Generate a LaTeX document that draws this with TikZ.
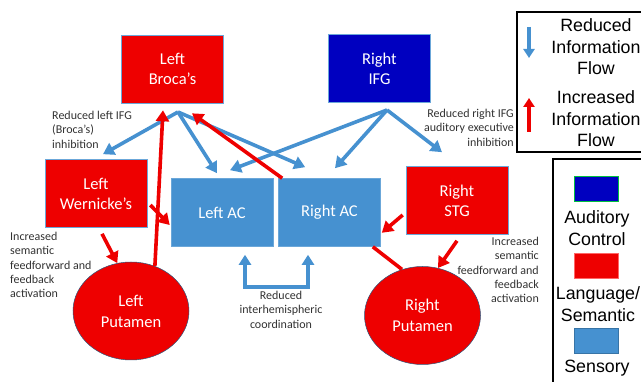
\documentclass[tikz,border=0pt]{standalone}
\usepackage{fontspec}
\setmainfont{Carlito}
\newfontfamily\legendfont{Liberation Sans}
\usetikzlibrary{arrows.meta, positioning, calc, shapes.geometric}
\definecolor{langred}{RGB}{238,0,0}
\definecolor{ctrlblue}{RGB}{0,0,192}
\definecolor{sensblue}{RGB}{70,145,208}
\definecolor{notegray}{RGB}{50,50,50}

\begin{document}
\begin{tikzpicture}[x=1pt, y=-1pt,
  region/.style={rectangle, draw=sensblue!80, line width=0.6pt, text=white, align=center,
    minimum width=102pt, minimum height=68pt, inner sep=0pt,
    font=\fontsize{16.5}{20}\selectfont},
  lang/.style={region, fill=langred},
  ctrl/.style={region, fill=ctrlblue},
  sens/.style={region, fill=sensblue},
  putamen/.style={ellipse, fill=langred, draw=sensblue!60!black, line width=0.5pt, text=white, align=center,
    minimum width=116pt, minimum height=98pt, inner sep=0pt,
    font=\fontsize{16.5}{21}\selectfont},
  reduced/.style={sensblue, line width=3.6pt, -{Triangle[length=11pt, width=13pt]}},
  increased/.style={langred, line width=3.6pt, -{Triangle[length=11pt, width=13pt]}},
  note/.style={notegray, inner sep=0pt, font=\fontsize{12}{14.3}\selectfont},
  legtext/.style={align=center, inner sep=0pt, font=\legendfont\fontsize{17.8}{21.5}\selectfont},
  swatch/.style={rectangle, minimum width=44pt, minimum height=25pt, inner sep=0pt, line width=0.8pt}]
  \useasboundingbox (0,0) rectangle (641,382);

  % regions
  \node[lang] (broca) at (172.5,69) {Left\\Broca’s};
  \node[ctrl] (ifg) at (379.5,68.5) {Right\\IFG};
  \node[lang] (wern) at (96,193.5) {Left\\Wernicke’s};
  \node[sens] (leftac) at (222,212.5) {Left AC};
  \node[sens] (rightac) at (329.5,212.5) {Right AC};
  \node[lang] (stg) at (457,200.5) {Right\\STG};
  \node[putamen] (lput) at (131,311) {Left\\Putamen};
  \node[putamen] (rput) at (422.5,315.5) {Right\\Putamen};

  \coordinate (brocafan) at (178,112);
  \coordinate (ifgfan) at (387,110);

  % reduced flow
  \draw[reduced] (brocafan) -- ([shift={(7pt,5pt)}]wern.north);
  \draw[reduced] (brocafan) -- ([shift={(-5pt,5pt)}]leftac.north);
  \draw[reduced] (brocafan) -- ([shift={(27pt,11pt)}]rightac.north west);
  \draw[reduced] (ifgfan) -- ([shift={(8pt,8pt)}]leftac.north);
  \draw[reduced] (ifgfan) -- ([shift={(5.5pt,10pt)}]rightac.north);
  \draw[reduced] (ifgfan) -- ([shift={(-15pt,14pt)}]stg.north);
  \draw[reduced, {Triangle[length=10pt, width=12pt]}-{Triangle[length=10pt, width=12pt]}]
    ([shift={(23pt,-8pt)}]leftac.south) -- ++(0,-32pt) -| ([shift={(-21.5pt,-8pt)}]rightac.south);

  % increased flow
  \draw[increased] ([xshift=4pt]rightac.north west) -- ([shift={(19.5pt,-10pt)}]broca.south);
  \draw[increased] (lput.62) -- ([shift={(-9.5pt,-7pt)}]broca.south);
  \draw[increased] ([shift={(3pt,-11.5pt)}]wern.east) -- ([shift={(-1pt,-12.5pt)}]leftac.west);
  \draw[increased] ([shift={(6pt,-6pt)}]wern.south) -- (lput.106);
  \draw[increased] ([shift={(-3pt,-14.5pt)}]stg.west) -- ([shift={(1pt,14pt)}]rightac.south east);
  \draw[langred, line width=3.6pt] ([xshift=-8pt]rightac.south east) -- (rput.114);
  \draw[increased] ([yshift=-6pt]stg.south) -- (rput.72);

  % annotations
  \node[note, anchor=north west, align=left] (brocanote) at (52,111)
    {Reduced left IFG\\(Broca’s)\\inhibition};
  \node[note, anchor=north east, align=right] (ifgnote) at (514,109)
    {Reduced right IFG\\auditory executive\\inhibition};
  \node[note, anchor=north west, align=left] (leftnote) at (10,232)
    {Increased\\semantic\\feedforward and\\feedback\\activation};
  \node[note, anchor=north east, align=right] (rightnote) at (539,237)
    {Increased\\semantic\\feedforward and\\feedback\\activation};
  \node[note, anchor=north, align=center] (acnote) at (281,291)
    {Reduced\\interhemispheric\\coordination};

  % legend
  \draw[line width=2pt] (517,12) rectangle (660,152);
  \draw[line width=2pt] (553,159) rectangle (660,400);
  \coordinate (redtop) at (529,27);
  \coordinate (incbot) at (529,132);
  \draw[reduced, line width=3.4pt, -{Triangle[length=9pt, width=11pt]}] (redtop) -- ++(0,-31pt);
  \draw[increased, line width=3.4pt, -{Triangle[length=9pt, width=11pt]}] (incbot) -- ++(0,34pt);
  \node[legtext] (redtext) at (596,47) {Reduced\\Information\\Flow};
  \node[legtext] (inctext) at (596,119) {Increased\\Information\\Flow};
  \node[swatch, fill=ctrlblue, draw=green!50!teal] (ctrlkey) at (596,189) {};
  \node[legtext] (ctrltext) at (597,228) {Auditory\\Control};
  \node[swatch, fill=langred, draw=red!60] (langkey) at (596,265.5) {};
  \node[legtext] (langtext) at (598,304) {Language/\\Semantic};
  \node[swatch, fill=sensblue, draw=sensblue!80!black] (senskey) at (596,340.5) {};
  \node[legtext] (senstext) at (597,368) {Sensory};
\end{tikzpicture}
\end{document}
